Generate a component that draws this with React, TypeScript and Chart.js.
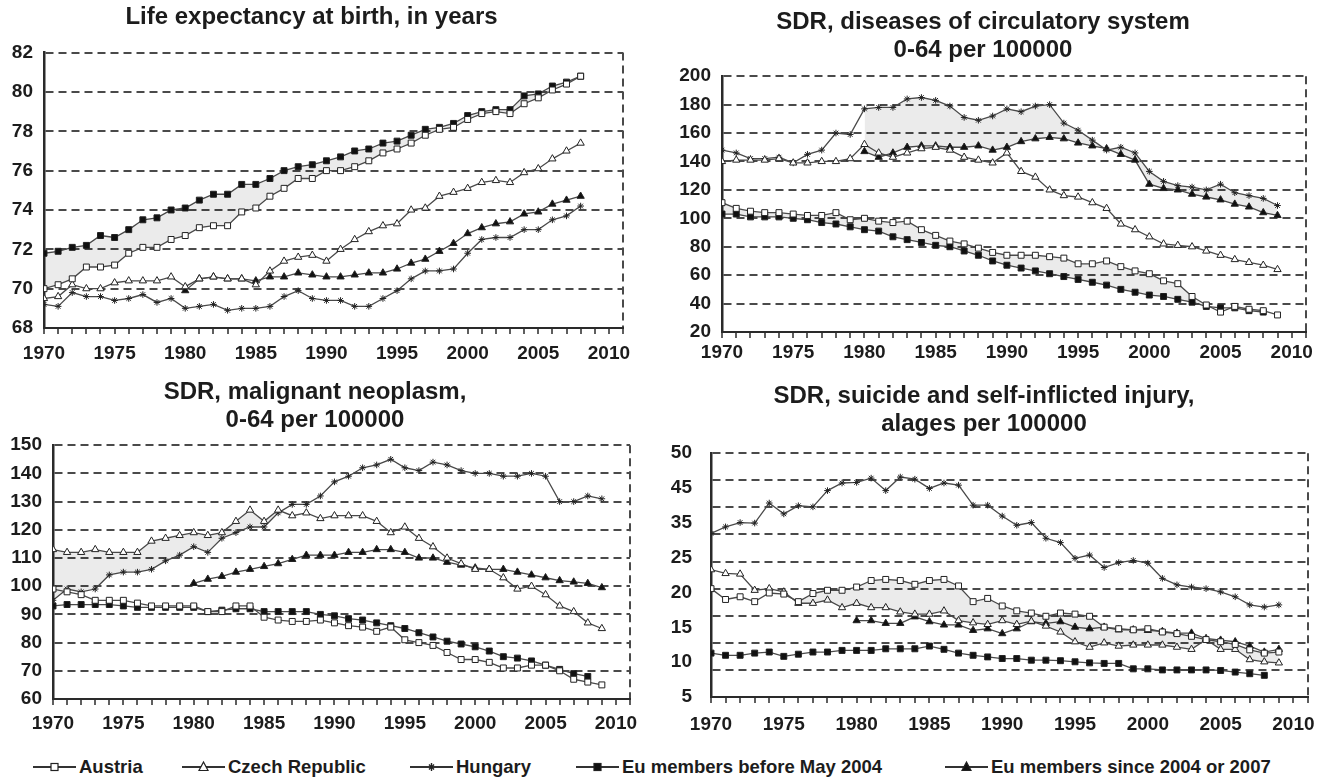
import React, { useEffect, useRef } from "react";
import { Chart, registerables } from "chart.js";

Chart.register(...registerables);

// ---------- data ----------
const SERIES_NAMES = ["Austria", "Czech Republic", "Hungary", "Eu members before May 2004", "Eu members since 2004 or 2007"];
const X_TICK_LABELS = [1970, 1975, 1980, 1985, 1990, 1995, 2000, 2005, 2010];
const X_MIN = 1970;
const X_MAX = 2011;

// Life expectancy at birth (Austria, Czech, Hungary, EU-before from 1970; EU-since from 1980)
const leAustria = [70.0, 70.2, 70.5, 71.1, 71.1, 71.2, 71.8, 72.1, 72.1, 72.5, 72.7, 73.1, 73.2, 73.2, 73.9, 74.1, 74.7, 75.1, 75.6, 75.6, 76.0, 76.0, 76.2, 76.5, 76.9, 77.1, 77.4, 77.8, 78.1, 78.2, 78.6, 78.9, 79.0, 78.9, 79.4, 79.7, 80.1, 80.4, 80.8];
const leCzech = [69.5, 69.6, 70.2, 70.0, 70.0, 70.3, 70.4, 70.4, 70.4, 70.6, 70.1, 70.5, 70.6, 70.5, 70.5, 70.2, 70.9, 71.4, 71.6, 71.7, 71.4, 72.0, 72.5, 72.9, 73.2, 73.3, 74.0, 74.1, 74.7, 74.9, 75.1, 75.4, 75.5, 75.4, 75.9, 76.1, 76.6, 77.0, 77.4];
const leHungary = [69.2, 69.1, 69.8, 69.6, 69.6, 69.4, 69.5, 69.7, 69.3, 69.5, 69.0, 69.1, 69.2, 68.9, 69.0, 69.0, 69.1, 69.6, 69.9, 69.5, 69.4, 69.4, 69.1, 69.1, 69.5, 69.9, 70.5, 70.9, 70.9, 71.0, 71.8, 72.5, 72.6, 72.6, 73.0, 73.0, 73.5, 73.7, 74.2];
const leEuBefore = [71.8, 71.9, 72.1, 72.2, 72.7, 72.6, 73.0, 73.5, 73.6, 74.0, 74.1, 74.5, 74.8, 74.8, 75.3, 75.3, 75.6, 76.0, 76.2, 76.3, 76.5, 76.7, 77.0, 77.1, 77.4, 77.5, 77.8, 78.1, 78.2, 78.4, 78.8, 79.0, 79.1, 79.1, 79.8, 79.9, 80.3, 80.5, 80.8];
const leEuSince = [69.9, 70.5, 70.6, 70.5, 70.5, 70.4, 70.6, 70.6, 70.8, 70.7, 70.6, 70.6, 70.7, 70.8, 70.8, 71.0, 71.3, 71.5, 71.9, 72.3, 72.8, 73.1, 73.3, 73.4, 73.8, 73.9, 74.3, 74.5, 74.7];

// SDR, diseases of circulatory system 0-64
const cAustria = [111, 107, 105, 104, 104, 103, 102, 102, 104, 99, 100, 98, 97, 98, 92, 88, 84, 82, 79, 76, 74, 74, 74, 73, 72, 68, 68, 70, 66, 63, 61, 56, 54, 45, 39, 34, 38, 36, 35, 32];
const cCzech = [140, 141, 141, 141, 142, 139, 139, 140, 140, 142, 152, 146, 143, 146, 149, 150, 148, 143, 141, 139, 146, 133, 129, 120, 116, 115, 111, 107, 96, 92, 87, 82, 81, 80, 77, 74, 71, 69, 67, 64];
const cHungary = [148, 146, 142, 142, 143, 139, 145, 148, 160, 159, 177, 178, 178, 184, 185, 183, 179, 171, 169, 172, 177, 175, 179, 180, 167, 162, 155, 148, 150, 146, 133, 126, 123, 122, 120, 124, 118, 116, 114, 109];
const cEuBefore = [103, 103, 101, 101, 101, 100, 99, 97, 96, 94, 92, 91, 87, 85, 83, 81, 80, 77, 74, 70, 67, 65, 63, 61, 59, 57, 55, 53, 50, 48, 46, 45, 43, 41, 38, 37, 37, 35, 34];
const cEuSince = [147, 143, 146, 150, 151, 151, 150, 150, 151, 148, 150, 154, 156, 157, 156, 153, 151, 149, 145, 141, 124, 121, 120, 117, 115, 113, 110, 108, 104, 102];

// SDR, malignant neoplasm 0-64
const nAustria = [99, 98, 97, 95, 95, 95, 94, 93, 93, 93, 93, 91, 91, 93, 93, 89, 88, 87.5, 87.5, 88, 87, 86, 85.5, 84, 85.5, 81, 80, 79, 76.5, 74, 74, 73, 71, 71, 72, 72, 70, 67, 66, 65];
const nCzech = [113, 112, 112, 113, 112, 112, 112, 116, 117, 118, 119, 118, 119, 123, 127, 123, 127, 125, 126, 124, 125, 125, 125, 123, 119, 121, 117, 114, 110, 108, 106, 106, 103, 99, 100, 97, 93, 91, 87, 85];
const nHungary = [95, 99, 98, 99, 104, 105, 105, 106, 109, 111, 114, 112, 117, 119, 121, 121, 126, 129, 129, 132, 137, 139, 142, 143, 145, 142, 141, 144, 143, 141, 140, 140, 139, 139, 140, 139, 130, 130, 132, 131];
const nEuBefore = [93, 93.5, 93.5, 93.5, 93.5, 93, 92.5, 92.5, 92.5, 92.5, 92.5, 91, 91.5, 92, 92, 91, 91, 91, 91, 90, 89.5, 88.5, 88, 87, 86, 85, 83.5, 82, 80.5, 79.5, 78.5, 77, 75, 74.5, 73.5, 72, 70.5, 69, 68];
const nEuSince = [101, 102.5, 103.5, 105, 106, 107, 108, 109.5, 111, 111, 111, 112, 112, 113, 113, 112, 110, 110, 108.5, 107.5, 106.5, 106, 106, 105, 104, 103, 102, 101.5, 101, 99.5];

// SDR, suicide and self-inflicted injury
const sAustria = [25.0, 23.0, 23.5, 22.6, 24.2, 24.0, 22.6, 24.1, 24.7, 24.7, 25.3, 26.5, 26.7, 26.5, 25.8, 26.5, 26.7, 25.5, 22.6, 23.2, 21.8, 20.9, 20.5, 19.9, 20.5, 20.3, 19.9, 17.9, 17.6, 17.4, 17.6, 17.0, 16.7, 16.2, 15.6, 15.2, 14.7, 13.7, 13.1, 13.3];
const sCzech = [28.5, 27.8, 27.7, 24.7, 25.0, 24.4, 22.3, 22.3, 22.9, 21.5, 22.3, 21.5, 21.5, 20.7, 20.3, 20.3, 20.9, 19.1, 18.7, 18.4, 19.1, 18.4, 19.0, 18.1, 17.0, 15.2, 14.2, 15.0, 14.4, 14.6, 14.6, 14.6, 14.2, 13.8, 15.6, 13.8, 13.8, 11.9, 11.5, 11.3];
const sHungary = [35.2, 36.4, 37.2, 37.1, 40.8, 38.8, 40.3, 40.1, 43.1, 44.5, 44.6, 45.4, 43.1, 45.6, 45.2, 43.5, 44.5, 44.1, 40.4, 40.4, 38.4, 36.7, 37.2, 34.3, 33.5, 30.6, 31.2, 28.9, 29.8, 30.2, 29.7, 26.9, 25.7, 25.3, 25.0, 24.4, 23.5, 22.0, 21.6, 22.0];
const sEuBefore = [13.1, 12.7, 12.7, 13.1, 13.3, 12.5, 12.9, 13.3, 13.3, 13.6, 13.6, 13.6, 13.9, 13.9, 13.9, 14.4, 13.8, 13.1, 12.7, 12.4, 12.1, 12.1, 11.8, 11.8, 11.7, 11.5, 11.3, 11.2, 11.2, 10.2, 10.2, 10.0, 10.0, 10.0, 10.0, 9.9, 9.6, 9.3, 9.0];
const sEuSince = [19.1, 19.1, 18.6, 18.6, 19.8, 18.9, 18.3, 18.3, 17.3, 17.6, 16.7, 17.6, 18.9, 18.6, 18.9, 17.9, 17.6, 17.9, 17.4, 17.4, 17.3, 17.1, 16.8, 16.8, 15.8, 15.5, 15.2, 14.4, 13.3, 13.8];
const S_Y_LABELS = ["50", "45", "35", "25", "20", "15", "10", "5"];

const SERIES_STARTS = [1970, 1970, 1970, 1970, 1980];

// ---------- styles ----------
const FONT = '"Liberation Sans", Arial, Helvetica, sans-serif';
const INK = "#1c1c1c";
const LINE_COLOR = "#4a4a4a";
const MARK_EDGE = "#222222";
const GRID = "#4a4a4a";
const AXIS = "#2a2a2a";
const SHADE = "rgba(0,0,0,0.08)";
const NO_SHADE = "rgba(0,0,0,0)";

const MARKERS = [
  { style: "rect", radius: 4.2, fill: "#ffffff" },
  { style: "triangle", radius: 4.2, fill: "#ffffff" },
  { style: "star", radius: 3.3, fill: "#333333" },
  { style: "rect", radius: 4.2, fill: "#111111" },
  { style: "triangle", radius: 4.2, fill: "#111111" },
];

// fills: [from dataset, to dataset, shade where "from" is above / below "to"]
const PANELS: any[] = [
  {
    title: ["Life expectancy at birth, in years"],
    series: [leAustria, leCzech, leHungary, leEuBefore, leEuSince],
    yMin: 68, yMax: 82, yStep: 2,
    fills: [[0, 3, false, true]],
    box: { left: 0, top: 0, width: 660, height: 370 },
    yAxisWidth: 44, padRight: 37, titlePad: { top: 4, bottom: 21 }, xAxisHeight: 42, xLabelPad: 8,
  },
  {
    title: ["SDR, diseases of circulatory system", "0-64 per 100000"],
    series: [cAustria, cCzech, cHungary, cEuBefore, cEuSince],
    yMin: 20, yMax: 200, yStep: 20,
    fills: [[0, 3, true, false], [2, 4, true, false]],
    box: { left: 660, top: 0, width: 658, height: 370 },
    yAxisWidth: 62, padRight: 12, titlePad: { top: 9, bottom: 12 }, xAxisHeight: 38, xLabelPad: 3,
  },
  {
    title: ["SDR, malignant neoplasm,", "0-64 per 100000"],
    series: [nAustria, nCzech, nHungary, nEuBefore, nEuSince],
    yMin: 60, yMax: 150, yStep: 10,
    fills: [[1, 2, true, false]],
    box: { left: 0, top: 365, width: 660, height: 385 },
    yAxisWidth: 53, padRight: 30, titlePad: { top: 14, bottom: 11 }, xAxisHeight: 51, xLabelPad: 7,
  },
  {
    title: ["SDR, suicide and self-inflicted injury,", "alages per 100000"],
    series: [sAustria, sCzech, sHungary, sEuBefore, sEuSince],
    yMin: 5, yMax: 50, yStep: 5,
    yLabels: S_Y_LABELS,
    fills: [[0, 1, true, false]],
    box: { left: 660, top: 365, width: 658, height: 385 },
    yAxisWidth: 51, padRight: 10, titlePad: { top: 18, bottom: 15 }, xAxisHeight: 53, xLabelPad: 10,
  },
];

const LEGEND_X = [33, 182, 410, 576, 945];

function makeChart(canvas: HTMLCanvasElement, p: any) {
  const tickFont = { family: FONT, size: 19, weight: "bold" as const };
  const datasets = SERIES_NAMES.map((name, i) => {
    const values: number[] = p.series[i];
    const start = SERIES_STARTS[i];
    const pair = p.fills.find((f: any[]) => f[0] === i);
    const m = MARKERS[i];
    return {
      label: name,
      data: values.map((v, j) => ({ x: start + j, y: v })),
      borderColor: LINE_COLOR,
      borderWidth: 1.3,
      pointStyle: m.style,
      pointRadius: m.radius,
      pointBackgroundColor: m.fill,
      pointBorderColor: MARK_EDGE,
      pointBorderWidth: 1,
      fill: pair
        ? { target: pair[1], above: pair[2] ? SHADE : NO_SHADE, below: pair[3] ? SHADE : NO_SHADE }
        : false,
      tension: 0,
    };
  });

  const scales: any = {
    x: {
      type: "linear",
      min: X_MIN,
      max: X_MAX,
      ticks: {
        stepSize: 1,
        autoSkip: false,
        maxRotation: 0,
        minRotation: 0,
        font: tickFont,
        color: INK,
        padding: p.xLabelPad,
        callback: (v: any) => (X_TICK_LABELS.includes(v) ? String(v) : ""),
      },
      grid: {
        drawOnChartArea: true,
        drawTicks: true,
        tickLength: 6,
        tickWidth: 1.5,
        tickColor: AXIS,
        lineWidth: 2,
        color: (ctx: any) => (ctx.tick && ctx.tick.value === X_MAX ? GRID : "transparent"),
      },
      border: { display: true, color: AXIS, width: 2, dash: [8, 5] },
      afterFit: (s: any) => {
        s.height = p.xAxisHeight;
      },
    },
    y: {
      type: "linear",
      position: "left",
      weight: 0,
      min: p.yMin,
      max: p.yMax,
      ticks: { stepSize: p.yStep, display: !p.yLabels, font: tickFont, color: INK, padding: 11 },
      grid: { color: GRID, lineWidth: 2, drawTicks: false },
      border: { display: true, color: AXIS, width: 2.5, dash: [8, 5] },
      afterFit: (s: any) => {
        s.width = p.yLabels ? 0 : p.yAxisWidth;
      },
    },
  };
  if (p.yLabels) {
    const labels: string[] = p.yLabels;
    scales.yLab = {
      type: "linear",
      position: "left",
      weight: 1,
      min: 0,
      max: labels.length - 1,
      ticks: {
        stepSize: 1,
        font: tickFont,
        color: INK,
        padding: 11,
        callback: (v: any) => labels[labels.length - 1 - v],
      },
      grid: { display: false },
      border: { display: false },
      afterFit: (s: any) => {
        s.width = p.yAxisWidth;
      },
    };
  }

  return new Chart(canvas, {
    type: "line",
    data: { datasets },
    options: {
      responsive: false,
      animation: false,
      devicePixelRatio: 1,
      layout: { padding: { left: 0, right: p.padRight, top: 0, bottom: 0 } },
      plugins: {
        legend: { display: false },
        tooltip: { enabled: false },
        title: {
          display: true,
          text: p.title,
          color: INK,
          font: { family: FONT, size: 24, weight: "bold", lineHeight: 1.15 },
          padding: p.titlePad,
        },
      },
      scales,
    } as any,
  });
}

function LegendIcon({ kind }: { kind: number }) {
  const w = 43;
  const h = 14;
  const cx = w / 2;
  const cy = h / 2;
  let marker: any = null;
  if (kind === 0 || kind === 3) {
    marker = (
      <rect x={cx - 3.5} y={cy - 3.5} width={7} height={7} fill={kind === 0 ? "#fff" : "#111"} stroke="#222" strokeWidth={1.2} />
    );
  } else if (kind === 1 || kind === 4) {
    marker = (
      <polygon
        points={`${cx},${cy - 5} ${cx + 4.5},${cy + 3.5} ${cx - 4.5},${cy + 3.5}`}
        fill={kind === 1 ? "#fff" : "#111"}
        stroke="#222"
        strokeWidth={1.2}
      />
    );
  } else {
    marker = (
      <g stroke="#222" strokeWidth={1.4}>
        <line x1={cx} y1={cy - 4} x2={cx} y2={cy + 4} />
        <line x1={cx - 2.5} y1={cy - 2.5} x2={cx + 2.5} y2={cy + 2.5} />
        <line x1={cx - 2.5} y1={cy + 2.5} x2={cx + 2.5} y2={cy - 2.5} />
      </g>
    );
  }
  return (
    <svg width={w} height={h} style={{ display: "block" }}>
      <line x1={0} y1={cy} x2={w} y2={cy} stroke="#333" strokeWidth={1.8} />
      {marker}
    </svg>
  );
}

export default function App() {
  const refs = useRef<(HTMLCanvasElement | null)[]>([]);

  useEffect(() => {
    const charts = PANELS.map((p, i) => makeChart(refs.current[i] as HTMLCanvasElement, p));
    return () => {
      charts.forEach((c) => c.destroy());
    };
  }, []);

  return (
    <div
      style={{
        position: "absolute",
        left: 0,
        top: 0,
        width: 1318,
        height: 779,
        background: "#ffffff",
        overflow: "hidden",
      }}
    >
      {PANELS.map((p, i) => (
        <canvas
          key={i}
          ref={(el) => {
            refs.current[i] = el;
          }}
          width={p.box.width}
          height={p.box.height}
          style={{ position: "absolute", left: p.box.left, top: p.box.top, width: p.box.width, height: p.box.height }}
        />
      ))}
      {SERIES_NAMES.map((name, i) => (
        <div
          key={name}
          style={{
            position: "absolute",
            left: LEGEND_X[i],
            top: 755,
            height: 24,
            display: "flex",
            alignItems: "center",
            gap: 3,
            whiteSpace: "nowrap",
          }}
        >
          <LegendIcon kind={i} />
          <span style={{ fontFamily: FONT, fontWeight: "bold", fontSize: 18.5, color: INK }}>{name}</span>
        </div>
      ))}
    </div>
  );
}
